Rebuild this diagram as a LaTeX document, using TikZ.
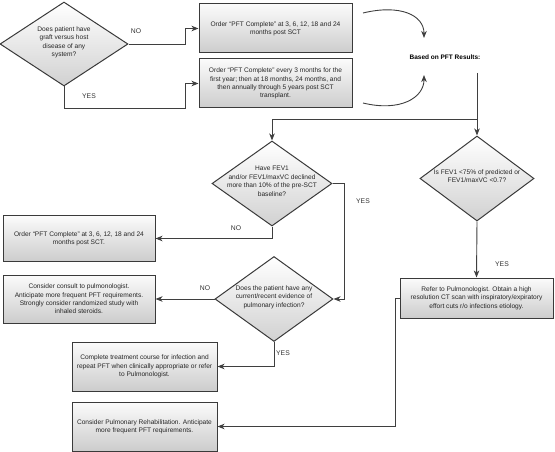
\documentclass[tikz,border=0pt]{standalone}
\usepackage{fontspec}
\setmainfont{Liberation Sans}
\usetikzlibrary{shapes.geometric,arrows.meta}
\definecolor{edgec}{HTML}{3A3A3A}
\definecolor{linec}{HTML}{3F3F3F}
\tikzset{
  txt/.style={font=\fontsize{6.6}{8.4}\selectfont, align=center, text=black!85},
  box/.style={txt, draw=edgec, line width=1pt, rectangle, inner sep=0pt,
     top color=gray!3, bottom color=gray!40},
  dia/.style={txt, draw=edgec, line width=1pt, diamond, inner sep=0pt,
     top color=white, bottom color=gray!36},
  lab/.style={font=\fontsize{6.8}{8}\selectfont, text=black!80},
  arr/.style={draw=linec, line width=0.9pt, arrows={-Stealth[length=7pt,width=5.5pt,inset=2pt]}},
}
\newcommand{\dtext}[1]{\makebox[0pt]{\smash{\begin{tabular}{@{}c@{}}#1\end{tabular}}}}
\begin{document}
\begin{tikzpicture}[x=1pt,y=-1pt]
\useasboundingbox (0,0) rectangle (555,452);
% nodes
\node[dia, minimum width=128pt, minimum height=84pt] (d1) at (64,44)
  {\dtext{Does patient have\\graft versus host\\disease of any\\system?}};
\node[box, minimum width=153pt, minimum height=49pt] (b1) at (275.5,28.5)
  {Order ``PFT Complete'' at 3, 6, 12, 18 and 24\\months post SCT};
\node[box, minimum width=153pt, minimum height=49pt] (b2) at (275.5,83.5)
  {Order ``PFT Complete'' every 3 months for the\\first year; then at 18 months, 24 months, and\\then annually through 5 years post SCT\\transplant.};
\node[font=\bfseries\fontsize{6.5}{7}\selectfont] (based) at (445,57) {Based on PFT Results:};
\node[dia, minimum width=120pt, minimum height=85pt] (d2) at (272,183.5)
  {\dtext{Have FEV1\\and/or FEV1/maxVC declined\\more than 10\% of the pre-SCT\\baseline?}};
\node[dia, minimum width=114pt, minimum height=85pt] (d3) at (477,178.5)
  {\dtext{Is FEV1 {<}75\% of predicted or\\FEV1/maxVC {<}0.7?}};
\node[box, minimum width=152pt, minimum height=46pt] (o3) at (79,238.5)
  {Order ``PFT Complete'' at 3, 6, 12, 18 and 24\\months post SCT.};
\node[box, minimum width=152pt, minimum height=48pt] (bc) at (79,299)
  {Consider consult to pulmonologist.\\Anticipate more frequent PFT requirements.\\Strongly consider randomized study with\\inhaled steroids.};
\node[dia, minimum width=118pt, minimum height=85pt] (d4) at (274,299)
  {\dtext{Does the patient have any\\current/recent evidence of\\pulmonary infection?}};
\node[box, minimum width=145pt, minimum height=49pt] (bt) at (144.5,366.5)
  {Complete treatment course for infection and\\repeat PFT when clinically appropriate or refer\\to Pulmonologist.};
\node[box, minimum width=145pt, minimum height=49pt] (bh) at (144.5,426.5)
  {Consider Pulmonary Rehabilitation. Anticipate\\more frequent PFT requirements.};
\node[box, minimum width=153pt, minimum height=40pt] (br) at (476.5,298)
  {Refer to Pulmonologist. Obtain a high\\resolution CT scan with inspiratory/expiratory\\effort cuts r/o infections etiology.};
% coordinates
\coordinate (j1) at (185,44);
\coordinate (j2) at (185,108);
\coordinate (c1) at (363,13);
\coordinate (c1e) at (424,38);
\coordinate (c2) at (363,103);
\coordinate (c2e) at (424,75);
\coordinate (bp) at (477,73);
\coordinate (bj) at (477,119);
\coordinate (yj) at (344,183.5);
\coordinate (rj) at (395,298);
% edges
\draw[arr] (d1.east) -- (j1) |- (b1.west);
\draw[arr] (d1.south) |- (j2) |- (b2.west);
\draw[arr] (c1) .. controls (400,4) and (424,15) .. (c1e);
\draw[arr] (c2) .. controls (400,112) and (424,98) .. (c2e);
\draw[arr] (bp) -- (d3.north);
\draw[arr] (bj) -| (d2.north);
\draw[arr] (d2.south) |- (o3.east);
\draw[arr] (d2.east) -- (yj) |- (d4.east);
\draw[arr] (d4.west) -- (bc.east);
\draw[arr] (d4.south) |- (bt.east);
\draw[arr] (d3.south) -- (br.north);
\draw[arr] (br.west) -- (rj) |- (bh.east);
% labels
\node[lab] (l1) at (136,31) {NO};
\node[lab] (l2) at (89,96) {YES};
\node[lab] (l3) at (236,228) {NO};
\node[lab] (l4) at (363,201) {YES};
\node[lab] (l5) at (502,264) {YES};
\node[lab] (l6) at (205,288) {NO};
\node[lab] (l7) at (283,353) {YES};
\end{tikzpicture}
\end{document}
